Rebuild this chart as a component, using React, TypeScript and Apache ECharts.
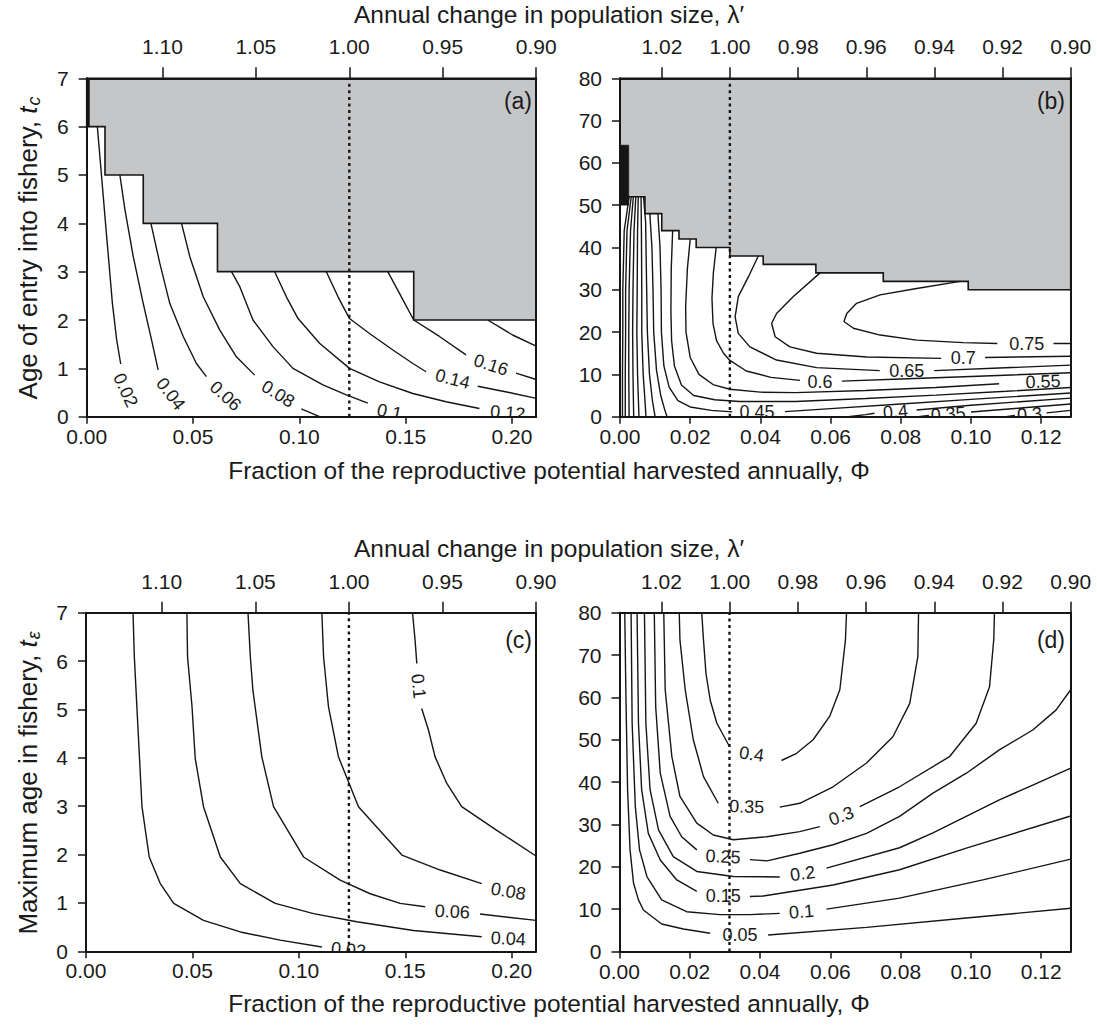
import React, { useEffect, useRef } from "react";
import * as echarts from "echarts";

type Pt = [number, number];
type Label = [number, number, number, string];

// ---------- axis extents & tick values ----------
const phiMaxAC = 0.2114;
const phiMaxBD = 0.1284;
const phiTicksAC = [0, 0.05, 0.1, 0.15, 0.2];
const phiTicksBD = [0, 0.02, 0.04, 0.06, 0.08, 0.1, 0.12];
const lambdaTicksAC = [0.9, 0.95, 1.0, 1.05, 1.1];
const lambdaTicksBD = [0.9, 0.92, 0.94, 0.96, 0.98, 1.0, 1.02];
const lambdaMin = 0.9;
const lambdaMaxAC = 1.1405;
const lambdaMaxBD = 1.0323;
const tMaxAC = 7;
const tMaxBD = 80;
const phiLambdaOneAC = 0.1235;
const phiLambdaOneBD = 0.0313;

// ---------- panel (a): age of entry, t_c 0-7 ----------
const boundaryA: Pt[] = [
  [0, 7], [0, 6], [0.0086, 6], [0.0086, 5], [0.0266, 5], [0.0266, 4], [0.0615, 4], [0.0615, 3],
  [0.1538, 3], [0.1538, 2], [0.2114, 2], [0.2114, 7],
];
const blackA: Pt[] = [[0, 6], [0.0013, 6], [0.0013, 7], [0, 7]];
const contoursA: Pt[][] = [
  [[0.005, 6], [0.007, 4.97], [0.0094, 3.72], [0.0121, 2.34], [0.0141, 1.59], [0.016, 1.09]],
  [[0.0156, 5], [0.018, 4.28], [0.0219, 3.31], [0.0266, 2.34], [0.0305, 1.59], [0.0336, 0.97]],
  [[0.0302, 4], [0.0344, 3.17], [0.0391, 2.34], [0.0454, 1.66], [0.0516, 1.1], [0.0563, 0.83]],
  [[0.0446, 4], [0.0485, 3.31], [0.0548, 2.48], [0.0626, 1.79], [0.0704, 1.24], [0.079, 0.86]],
  [[0.1009, 0.16], [0.1095, 0]],
  [[0.0681, 3], [0.072, 2.69], [0.0782, 2.0], [0.0876, 1.45], [0.097, 1.0], [0.1111, 0.66], [0.1221, 0.45], [0.1322, 0.28]],
  [[0.0884, 3], [0.0939, 2.48], [0.0994, 2.03], [0.1095, 1.52], [0.1236, 1.0], [0.1377, 0.72], [0.1534, 0.48], [0.169, 0.31], [0.1847, 0.17]],
  [[0.1127, 3], [0.1182, 2.48], [0.1236, 2.03], [0.133, 1.72], [0.144, 1.38], [0.1534, 1.1], [0.1596, 0.93]],
  [[0.1839, 0.63], [0.1987, 0.5], [0.2114, 0.38]],
  [[0.1416, 3], [0.1471, 2.55], [0.1538, 2.0], [0.1659, 1.66], [0.1784, 1.28]],
  [[0.2019, 0.9], [0.2114, 0.77]],
  [[0.1886, 2.0], [0.2003, 1.69], [0.2114, 1.46]],
];
const labelsA: Label[] = [
  [0.0183, 0.55, -65, "0.02"],
  [0.0395, 0.47, -53, "0.04"],
  [0.0653, 0.43, -42, "0.06"],
  [0.09, 0.47, -32, "0.08"],
  [0.1424, 0.1, -12, "0.1"],
  [0.198, 0.08, -5, "0.12"],
  [0.1721, 0.78, -14, "0.14"],
  [0.1901, 1.07, -18, "0.16"],
];

// ---------- panel (b): age of entry, t_c 0-80 ----------
const boundaryB: Pt[] = [
  [0, 80], [0, 52], [0.0071, 52], [0.0071, 48], [0.0119, 48], [0.0119, 44], [0.0168, 44], [0.0168, 42],
  [0.0217, 42], [0.0217, 40], [0.0313, 40], [0.0313, 38], [0.0408, 38], [0.0408, 36], [0.0558, 36],
  [0.0558, 34], [0.075, 34], [0.075, 32], [0.0992, 32], [0.0992, 30], [0.1284, 30], [0.1284, 80],
];
const blackB: Pt[] = [[0, 50], [0.0025, 50], [0.0025, 64.2], [0, 64.2]];
const contoursB: Pt[][] = [
  [[0.0026, 52], [0.0012, 44], [0.0008, 30], [0.0008, 20], [0.0007, 10], [0.0007, 0]],
  [[0.0032, 52], [0.002, 44], [0.0016, 30], [0.0016, 20], [0.0015, 10], [0.0015, 0]],
  [[0.0038, 52], [0.003, 44], [0.0026, 30], [0.0025, 20], [0.0025, 10], [0.0026, 0]],
  [[0.0045, 52], [0.004, 44], [0.0037, 30], [0.0036, 20], [0.0037, 10], [0.0039, 0]],
  [[0.0052, 52], [0.005, 44], [0.0049, 30], [0.0048, 20], [0.005, 10], [0.0054, 0]],
  [[0.006, 52], [0.0061, 44], [0.0062, 30], [0.0062, 20], [0.0066, 10], [0.0071, 4], [0.0074, 0]],
  [[0.11, 0], [0.1125, 0.3]],
  [[0.1215, 0.9], [0.1284, 1.5]],
  [[0.0067, 52], [0.0073, 46], [0.0076, 30], [0.0078, 20], [0.0084, 10], [0.0092, 4], [0.01, 0]],
  [[0.085, 0], [0.088, 0.3]],
  [[0.1, 1.1], [0.115, 2.1], [0.1284, 3.0]],
  [[0.0085, 48], [0.0091, 40], [0.0094, 30], [0.0096, 20], [0.0104, 11], [0.0116, 5], [0.0128, 1.5], [0.0134, 0]],
  [[0.065, 0], [0.07, 0.5], [0.0725, 0.8]],
  [[0.0845, 1.6], [0.1, 2.7], [0.115, 3.6], [0.1284, 4.4]],
  [[0.0108, 48], [0.0114, 40], [0.0117, 30], [0.0118, 20], [0.0125, 12], [0.014, 7], [0.0165, 3.8], [0.02, 2.3], [0.026, 1.5], [0.032, 1.15]],
  [[0.047, 1.2], [0.06, 1.9], [0.08, 3.0], [0.1, 4.1], [0.1284, 5.6]],
  [[0.015, 44], [0.0146, 35], [0.0145, 25], [0.0147, 18], [0.0155, 12], [0.0175, 7.5], [0.021, 5.0], [0.027, 4.0], [0.034, 3.6], [0.05, 3.6], [0.07, 4.3], [0.09, 5.1], [0.11, 6.0], [0.1284, 6.9]],
  [[0.02, 42], [0.0192, 35], [0.0187, 26], [0.0188, 20], [0.02, 14], [0.0225, 10], [0.0265, 7.6], [0.0313, 6.5], [0.04, 5.8], [0.05, 5.7], [0.07, 6.2], [0.09, 6.9], [0.108, 7.8]],
  [[0.0274, 40], [0.0266, 34], [0.0262, 28], [0.0265, 22], [0.0275, 18], [0.0295, 15], [0.0313, 13.3], [0.036, 10.8], [0.043, 9.3], [0.0513, 8.6]],
  [[0.0632, 8.4], [0.08, 8.9], [0.1, 9.5], [0.1284, 10.4]],
  [[0.0394, 38], [0.0366, 33.1], [0.0337, 28.4], [0.0328, 23.6], [0.0337, 19.7], [0.037, 16.5], [0.0446, 13.4], [0.056, 11.6], [0.074, 10.9]],
  [[0.0895, 10.9], [0.108, 11.5], [0.1284, 12.2]],
  [[0.057, 34], [0.0494, 28.4], [0.0446, 24.4], [0.0432, 22.1], [0.0442, 18.9], [0.0484, 16.5], [0.056, 15.0], [0.0703, 14.1], [0.0915, 13.8]],
  [[0.104, 14.0], [0.1284, 14.3]],
  [[0.0969, 32], [0.0845, 30.3], [0.0741, 28.8], [0.0674, 26.8], [0.0646, 24.4], [0.0638, 22.5], [0.0665, 20.9], [0.0741, 19.3], [0.0845, 18.1], [0.0978, 17.5], [0.1075, 17.3]],
  [[0.1235, 17.3], [0.1284, 17.3]],
];
const labelsB: Label[] = [
  [0.1159, 17.2, 0, "0.75"],
  [0.0978, 13.9, 0, "0.7"],
  [0.0817, 10.8, 0, "0.65"],
  [0.057, 8.3, 0, "0.6"],
  [0.1205, 8.3, 2, "0.55"],
  [0.039, 1.0, 0, "0.45"],
  [0.0785, 1.2, 5, "0.4"],
  [0.0935, 0.65, 4, "0.35"],
  [0.1167, 0.6, 4, "0.3"],
];

// ---------- panel (c): maximum age, t_e 0-7 ----------
const contoursC: Pt[][] = [
  [[0.0221, 7], [0.0227, 6.09], [0.0247, 4.37], [0.0263, 2.99], [0.0297, 1.95], [0.0349, 1.4], [0.0412, 0.99], [0.0552, 0.64], [0.0725, 0.4], [0.0912, 0.23], [0.1108, 0.09]],
  [[0.0474, 7], [0.0477, 6.09], [0.0498, 5.06], [0.0513, 3.99], [0.0552, 2.99], [0.0631, 1.95], [0.0725, 1.4], [0.0889, 0.99], [0.1069, 0.78], [0.1272, 0.61], [0.1538, 0.43], [0.1859, 0.3]],
  [[0.0761, 7], [0.0772, 6.09], [0.0784, 5.4], [0.0826, 4.02], [0.0881, 2.99], [0.1022, 1.95], [0.1194, 1.47], [0.1335, 1.19], [0.1476, 0.99], [0.1593, 0.92]],
  [[0.1851, 0.77], [0.2114, 0.64]],
  [[0.1108, 7], [0.1116, 6.09], [0.1139, 5.06], [0.1186, 4.02], [0.128, 2.99], [0.1484, 1.99], [0.1664, 1.68], [0.1859, 1.4]],
  [[0.1534, 7], [0.1546, 6.43], [0.1554, 5.95]],
  [[0.1577, 5.02], [0.1609, 4.57], [0.164, 4.02], [0.1695, 3.47], [0.1765, 2.99], [0.193, 2.5], [0.2114, 1.97]],
];
const labelsC: Label[] = [
  [0.1233, 0.03, -6, "0.02"],
  [0.1984, 0.26, -3, "0.04"],
  [0.1721, 0.82, -3, "0.06"],
  [0.1984, 1.24, -10, "0.08"],
  [0.1562, 5.48, -84, "0.1"],
];

// ---------- panel (d): maximum age, t_e 0-80 ----------
const contoursD: Pt[][] = [
  [[0.0015, 80], [0.0018, 61.8], [0.0023, 38.2], [0.003, 24.0], [0.004, 16.1], [0.0054, 12.2], [0.0068, 9.8], [0.012, 6.5], [0.0182, 5.3], [0.0258, 4.3]],
  [[0.0423, 3.9], [0.0703, 5.7], [0.0987, 7.9], [0.1284, 10.2]],
  [[0.0033, 80], [0.0036, 53.9], [0.0045, 34.2], [0.0057, 24.0], [0.0078, 17.7], [0.012, 12.2], [0.0191, 9.4], [0.0286, 8.7], [0.0371, 8.7], [0.0456, 9.0]],
  [[0.0589, 10.0], [0.0797, 12.6], [0.1034, 16.9], [0.1284, 21.8]],
  [[0.005, 80], [0.0054, 53.9], [0.0063, 38.2], [0.0082, 27.9], [0.0116, 21.6], [0.0163, 16.9], [0.022, 14.2]],
  [[0.0371, 13.0], [0.0409, 13.1], [0.0608, 15.7], [0.0797, 19.3], [0.0987, 24.4], [0.1284, 32.0]],
  [[0.0071, 80], [0.0075, 53.9], [0.0087, 38.2], [0.0111, 28.7], [0.0153, 22.4], [0.022, 18.9], [0.0324, 17.7], [0.0456, 17.6]],
  [[0.0589, 19.7], [0.0797, 24.5], [0.0892, 28.0], [0.1081, 35.8], [0.1176, 39.3], [0.1284, 43.3]],
  [[0.0099, 80], [0.0103, 57.8], [0.0116, 42.1], [0.0144, 31.9], [0.0177, 27.1], [0.022, 24.0]],
  [[0.0371, 21.7], [0.042, 21.4], [0.0513, 23.2], [0.0608, 25.2], [0.0703, 27.9], [0.0797, 31.9], [0.0892, 37.4], [0.0987, 42.1], [0.1081, 47.6], [0.1176, 52.3], [0.1242, 57.0], [0.1284, 61.8]],
  [[0.0126, 80], [0.013, 61.8], [0.0149, 46.0], [0.0172, 36.6], [0.022, 30.3], [0.0267, 27.5], [0.0324, 26.4], [0.0419, 27.1], [0.0513, 28.3], [0.057, 29.5]],
  [[0.0684, 34.2], [0.0797, 38.9], [0.0939, 46.0], [0.1015, 53.9], [0.1053, 62.5], [0.1065, 73.6], [0.1067, 80]],
  [[0.017, 80], [0.0172, 73.6], [0.0187, 61.8], [0.021, 50.0], [0.0239, 41.3], [0.0281, 35.0]],
  [[0.0456, 34.1], [0.0513, 35.0], [0.0608, 38.9], [0.0703, 44.5], [0.0778, 50.7], [0.0826, 58.6], [0.0849, 69.6], [0.0851, 80]],
  [[0.0234, 80], [0.0239, 73.6], [0.0246, 65.7], [0.0258, 59.4], [0.0277, 53.9], [0.0313, 48.4]],
  [[0.0461, 45.1], [0.0504, 46.8], [0.0551, 50.0], [0.0598, 55.5], [0.0627, 61.8], [0.0643, 73.6], [0.0646, 80]],
];
const labelsD: Label[] = [
  [0.0343, 3.9, 0, "0.05"],
  [0.0518, 9.4, 5, "0.1"],
  [0.0295, 13.1, 0, "0.15"],
  [0.0521, 18.4, 8, "0.2"],
  [0.0295, 22.4, -3, "0.25"],
  [0.0631, 32.0, 20, "0.3"],
  [0.0362, 34.2, -2, "0.35"],
  [0.0376, 46.6, -8, "0.4"],
];

// ---------- styling ----------
const INK = "#151515";
const GRAY = "#c5c6c8";
const TICK_FONT = "Liberation Sans";
const TITLE_FONT = "'Liberation Sans Narrow', 'Liberation Sans', Arial, sans-serif";

const grids = [
  { left: 86.7, top: 78.3, width: 449.5, height: 338.4 },
  { left: 620, top: 78.3, width: 450.7, height: 338.4 },
  { left: 86, top: 612.7, width: 450, height: 338.6 },
  { left: 619.5, top: 612.7, width: 451.2, height: 338.8 },
];

function fmt2(v: number) {
  return (Math.round(v * 100) / 100).toFixed(2);
}

function buildOption() {
  const xAxis: any[] = [];
  const yAxis: any[] = [];
  const series: any[] = [];
  const panels = [
    { phiMax: phiMaxAC, phiTicks: phiTicksAC, lamMax: lambdaMaxAC, lamTicks: lambdaTicksAC, tMax: tMaxAC, tInt: 1, phiRef: phiLambdaOneAC, boundary: boundaryA, black: blackA, contours: contoursA, labels: labelsA },
    { phiMax: phiMaxBD, phiTicks: phiTicksBD, lamMax: lambdaMaxBD, lamTicks: lambdaTicksBD, tMax: tMaxBD, tInt: 10, phiRef: phiLambdaOneBD, boundary: boundaryB, black: blackB, contours: contoursB, labels: labelsB },
    { phiMax: phiMaxAC, phiTicks: phiTicksAC, lamMax: lambdaMaxAC, lamTicks: lambdaTicksAC, tMax: tMaxAC, tInt: 1, phiRef: phiLambdaOneAC, boundary: null, black: null, contours: contoursC, labels: labelsC },
    { phiMax: phiMaxBD, phiTicks: phiTicksBD, lamMax: lambdaMaxBD, lamTicks: lambdaTicksBD, tMax: tMaxBD, tInt: 10, phiRef: phiLambdaOneBD, boundary: null, black: null, contours: contoursD, labels: labelsD },
  ];

  const tickLabel = { color: "#1a1a1a", fontSize: 21, fontFamily: TICK_FONT };

  panels.forEach((p, i) => {
    xAxis.push({
      type: "value", gridIndex: i, position: "bottom", min: 0, max: p.phiMax, z: 10,
      axisLine: { show: true, onZero: false, lineStyle: { color: INK, width: 2 } },
      axisTick: { show: true, length: 7, customValues: p.phiTicks, lineStyle: { color: INK, width: 1.5 } },
      axisLabel: { show: true, margin: 9, customValues: p.phiTicks, formatter: (v: number) => fmt2(v), ...tickLabel },
      splitLine: { show: false },
    });
    xAxis.push({
      type: "value", gridIndex: i, position: "top", inverse: true, min: lambdaMin, max: p.lamMax, z: 10,
      axisLine: { show: true, onZero: false, lineStyle: { color: INK, width: 2 } },
      axisTick: { show: true, length: 11, customValues: p.lamTicks, lineStyle: { color: INK, width: 1.5 } },
      axisLabel: { show: true, margin: 21, customValues: p.lamTicks, formatter: (v: number) => fmt2(v), ...tickLabel },
      splitLine: { show: false },
    });
    yAxis.push({
      type: "value", gridIndex: i, position: "left", min: 0, max: p.tMax, interval: p.tInt, z: 10,
      axisLine: { show: true, onZero: false, lineStyle: { color: INK, width: 2 } },
      axisTick: { show: true, length: 8, lineStyle: { color: INK, width: 1.5 } },
      axisLabel: { show: true, margin: 18, formatter: (v: number) => String(Math.round(v)), ...tickLabel },
      splitLine: { show: false },
    });
    yAxis.push({
      type: "value", gridIndex: i, position: "right", min: 0, max: p.tMax, interval: p.tInt, z: 10,
      axisLine: { show: true, onZero: false, lineStyle: { color: INK, width: 2 } },
      axisTick: { show: false }, axisLabel: { show: false }, splitLine: { show: false },
    });

    const xi = 2 * i;
    const yi = 2 * i;

    if (p.boundary) {
      const poly = p.boundary;
      series.push({
        type: "custom", xAxisIndex: xi, yAxisIndex: yi, silent: true, z: 2, clip: false,
        data: [poly[0]],
        renderItem: (_params: any, api: any) => ({
          type: "polygon",
          shape: { points: poly.map((q) => api.coord(q)) },
          style: { fill: GRAY, stroke: INK, lineWidth: 1.6 },
        }),
      });
    }
    if (p.black) {
      const blk = p.black;
      series.push({
        type: "custom", xAxisIndex: xi, yAxisIndex: yi, silent: true, z: 3, clip: false,
        data: [blk[0]],
        renderItem: (_params: any, api: any) => ({
          type: "polygon",
          shape: { points: blk.map((q) => api.coord(q)) },
          style: { fill: INK, stroke: INK, lineWidth: 0.5 },
        }),
      });
    }
    p.contours.forEach((seg) => {
      series.push({
        type: "line", xAxisIndex: xi, yAxisIndex: yi, data: seg, symbol: "none", showSymbol: false,
        silent: true, clip: true, z: 3,
        lineStyle: { color: INK, width: 1.4 },
      });
    });
    series.push({
      type: "line", xAxisIndex: xi, yAxisIndex: yi, data: [[p.phiRef, 0], [p.phiRef, p.tMax]],
      symbol: "none", showSymbol: false, silent: true, z: 5,
      lineStyle: { color: INK, width: 2.4, type: [3, 3.6] },
    });
    const labs = p.labels;
    series.push({
      type: "custom", xAxisIndex: xi, yAxisIndex: yi, silent: true, z: 6, clip: true,
      data: labs.map((l) => [l[0], l[1]]),
      renderItem: (params: any, api: any) => {
        const l = labs[params.dataIndex];
        const c = api.coord([l[0], l[1]]);
        return {
          type: "text", x: c[0], y: c[1], rotation: (l[2] * Math.PI) / 180,
          style: { text: l[3], fill: "#1a1a1a", fontSize: 18, fontFamily: TICK_FONT, align: "center", verticalAlign: "middle" },
        };
      },
    });
  });

  const titleStyle = { fill: "#1a1a1a", fontSize: 24.5, fontFamily: TITLE_FONT, align: "center", verticalAlign: "middle" };
  const panelStyle = { fill: "#1a1a1a", fontSize: 23, fontFamily: TICK_FONT, align: "right", verticalAlign: "middle" };
  const yTitleRich = {
    n: { fontSize: 26, fontFamily: TITLE_FONT, fill: "#1a1a1a" },
    i: { fontSize: 26, fontFamily: TITLE_FONT, fontStyle: "italic", fill: "#1a1a1a" },
    s: { fontSize: 18, fontFamily: TITLE_FONT, fontStyle: "italic", fill: "#1a1a1a", padding: [12, 0, 0, 1] },
  };

  const graphic = [
    { type: "text", x: 549, y: 14, z: 20, style: { text: "Annual change in population size, λ′", ...titleStyle } },
    { type: "text", x: 549, y: 470, z: 20, style: { text: "Fraction of the reproductive potential harvested annually, Φ", ...titleStyle } },
    { type: "text", x: 549, y: 548, z: 20, style: { text: "Annual change in population size, λ′", ...titleStyle } },
    { type: "text", x: 549, y: 1003, z: 20, style: { text: "Fraction of the reproductive potential harvested annually, Φ", ...titleStyle } },
    { type: "text", x: 28, y: 248, rotation: Math.PI / 2, z: 20, style: { text: "{n|Age of entry into fishery, }{i|t}{s|c}", rich: yTitleRich, align: "center", verticalAlign: "middle" } },
    { type: "text", x: 28, y: 783, rotation: Math.PI / 2, z: 20, style: { text: "{n|Maximum age in fishery, }{i|t}{s|ε}", rich: yTitleRich, align: "center", verticalAlign: "middle" } },
    { type: "text", x: 532, y: 101, z: 20, style: { text: "(a)", ...panelStyle } },
    { type: "text", x: 1065, y: 101, z: 20, style: { text: "(b)", ...panelStyle } },
    { type: "text", x: 532, y: 640, z: 20, style: { text: "(c)", ...panelStyle } },
    { type: "text", x: 1065, y: 640, z: 20, style: { text: "(d)", ...panelStyle } },
  ];

  return {
    animation: false,
    backgroundColor: "#ffffff",
    grid: grids.map((g) => ({ ...g, containLabel: false, show: false })),
    xAxis,
    yAxis,
    series,
    graphic,
  };
}

export default function App() {
  const ref = useRef<HTMLDivElement>(null);
  useEffect(() => {
    const el = ref.current;
    if (!el) return;
    const chart = echarts.init(el, undefined, { renderer: "svg" });
    chart.setOption(buildOption() as any);
    return () => chart.dispose();
  }, []);
  return (
    <div
      ref={ref}
      style={{ position: "absolute", left: 0, top: 0, width: 1097, height: 1027, background: "#fff" }}
    />
  );
}
